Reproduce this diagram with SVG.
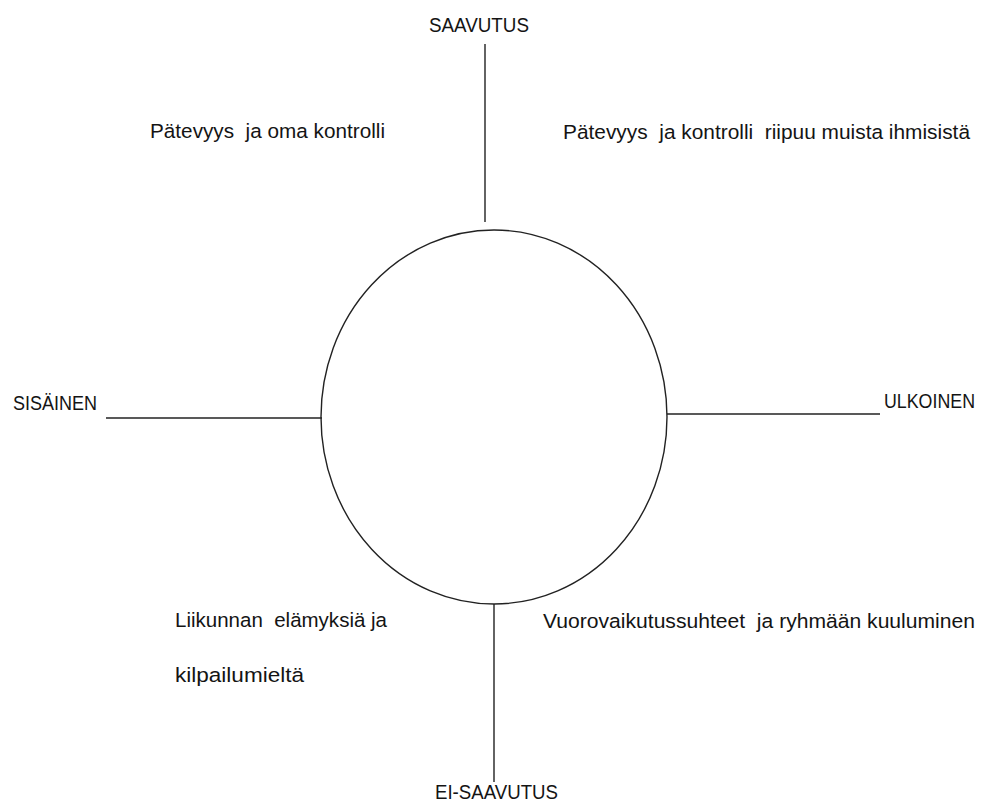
<svg xmlns="http://www.w3.org/2000/svg" width="984" height="803" viewBox="0 0 984 803">
<style>
.t{font-family:"Liberation Sans",Arial,sans-serif;font-size:20.5px;fill:#141414}
.l{stroke:#222;stroke-width:1.4;fill:none}
</style>
<rect width="984" height="803" fill="#fff"/>
<g id="connectors">
<line class="l" x1="485" y1="44" x2="485" y2="222"/>
<line class="l" x1="106" y1="418" x2="322" y2="418"/>
<line class="l" x1="667" y1="414" x2="880" y2="414"/>
<line class="l" x1="494" y1="604" x2="494" y2="782"/>
</g>
<g id="circle"><ellipse class="l" cx="494" cy="417" rx="173" ry="187"/></g>
<g id="saavutus"><text class="t" x="429" y="32" textLength="100" lengthAdjust="spacingAndGlyphs">SAAVUTUS</text></g>
<g id="ei-saavutus"><text class="t" x="435" y="799" textLength="123" lengthAdjust="spacingAndGlyphs">EI-SAAVUTUS</text></g>
<g id="sisainen"><text class="t" x="13" y="410" textLength="84" lengthAdjust="spacingAndGlyphs">SISÄINEN</text></g>
<g id="ulkoinen"><text class="t" x="975" y="408" text-anchor="end" textLength="91" lengthAdjust="spacingAndGlyphs">ULKOINEN</text></g>
<g id="q1"><text class="t" x="150" y="138" textLength="235" lengthAdjust="spacingAndGlyphs" xml:space="preserve">Pätevyys  ja oma kontrolli</text></g>
<g id="q2"><text class="t" x="563" y="139" textLength="407" lengthAdjust="spacingAndGlyphs" xml:space="preserve">Pätevyys  ja kontrolli  riipuu muista ihmisistä</text></g>
<g id="q3"><text class="t" x="175" y="627" textLength="212" lengthAdjust="spacingAndGlyphs" xml:space="preserve">Liikunnan  elämyksiä ja</text><text class="t" x="175" y="682" textLength="129" lengthAdjust="spacingAndGlyphs">kilpailumieltä</text></g>
<g id="q4"><text class="t" x="543" y="628" textLength="432" lengthAdjust="spacingAndGlyphs" xml:space="preserve">Vuorovaikutussuhteet  ja ryhmään kuuluminen</text></g>
</svg>
